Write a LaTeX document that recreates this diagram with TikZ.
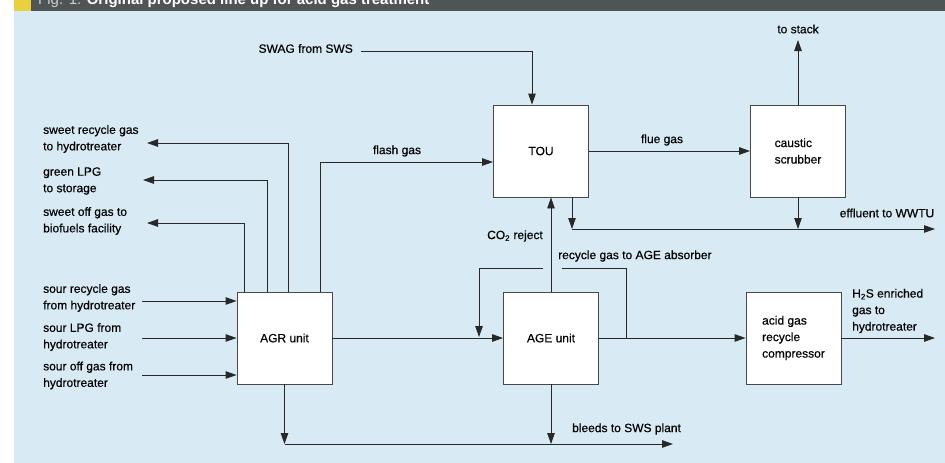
\documentclass[tikz,border=0pt]{standalone}
\usepackage{fontspec}
\setmainfont{Liberation Sans}
\newfontfamily\diagfont{Liberation Sans}[FakeBold=0.35]
\usepackage{xcolor}
\usepackage{tikz}
\usetikzlibrary{arrows.meta, positioning}
\definecolor{panelblue}{RGB}{216,235,244}
\definecolor{bargrey}{RGB}{79,84,86}
\definecolor{markyellow}{RGB}{234,208,60}
\definecolor{linegrey}{RGB}{40,40,40}
\definecolor{figgrey}{RGB}{205,205,205}
\tikzstyle{unit} = [rectangle, draw=linegrey!85, line width=0.9pt, fill=white, minimum width=95pt, minimum height=92pt, align=left, inner sep=0pt]
\tikzstyle{flow} = [draw=linegrey, line width=0.9pt, -{Triangle[length=11pt,width=7.5pt]}]

\begin{document}
\begin{tikzpicture}[
    x=1pt, y=-1pt,
    font=\diagfont\fontsize{12}{16.5}\selectfont,
    lbl/.style={inner sep=0pt, align=left, text=black},
    line/.style={draw=linegrey, line width=0.9pt}]
    \useasboundingbox (0,0) rectangle (945,463);
    \fill[white] (0,0) rectangle (945,463);
    \fill[panelblue] (14,11) rectangle (945,463);
    \fill[bargrey] (14,0) rectangle (945,11);
    \fill[markyellow] (14,0) rectangle (31,11);
    \node[lbl, anchor=base west, font=\rmfamily\fontsize{15}{18}\selectfont] (title) at (38,5) {\textcolor{figgrey}{Fig. 1:} \textcolor{white}{\bfseries Original proposed line up for acid gas treatment}};

    \node[unit] (agr)   at (284.5,338) {AGR unit};
    \node[unit] (tou)   at (541,151)   {TOU};
    \node[unit] (scrub) at (798,151)   {caustic\\scrubber};
    \node[unit] (age)   at (551,338)   {AGE unit};
    \node[unit] (comp)  at (793.5,338) {acid gas\\recycle\\compressor};

    \node[lbl, anchor=west] (lblsweetrec) at (43,139) {sweet recycle gas\\to hydrotreater};
    \node[lbl, anchor=west] (lblgreen)    at (43,181) {green LPG\\to storage};
    \node[lbl, anchor=west] (lblsweetoff) at (43,221) {sweet off gas to\\biofuels facility};
    \node[lbl, anchor=west] (lblsourrec)  at (43,298) {sour recycle gas\\from hydrotreater};
    \node[lbl, anchor=west] (lblsourlpg)  at (43,337) {sour LPG from\\hydrotreater};
    \node[lbl, anchor=west] (lblsouroff)  at (43,375.5) {sour off gas from\\hydrotreater};
    \node[lbl, anchor=east] (lblswag)     at (353,48.5) {SWAG from SWS};
    \node[lbl] (lblflash)  at (397,151) {flash gas};
    \node[lbl] (lblflue)   at (662,140) {flue gas};
    \node[lbl] (lblstack)  at (798,29)  {to stack};
    \node[lbl] (lbleffl)   at (887,213) {effluent to WWTU};
    \node[lbl, anchor=east] (lblco2)  at (543,236) {CO\textsubscript{2} reject};
    \node[lbl, anchor=west] (lblrcy)  at (558,256) {recycle gas to AGE absorber};
    \node[lbl, anchor=west] (lblbleed) at (572,429) {bleeds to SWS plant};
    \node[lbl, anchor=west] (lblh2s)  at (852,311) {H\textsubscript{2}S enriched\\gas to\\hydrotreater};

    \coordinate (sweetrec) at (147,143);
    \coordinate (green)    at (143,180);
    \coordinate (sweetoff) at (147,223);
    \coordinate (sourrec)  at (142,301);
    \coordinate (sourlpg)  at (142,338);
    \coordinate (souroff)  at (142,375);
    \coordinate (swagin)   at (361,51);
    \coordinate (stack)    at (798,40);
    \coordinate (effl)     at (572,229);
    \coordinate (wwtu)     at (935,229);
    \coordinate (rcyout)   at (626,338);
    \coordinate (rcyin)    at (479,337);
    \coordinate (gapr)     at (562,268);
    \coordinate (gapl)     at (543,268);
    \coordinate (h2s)      at (935,338);
    \coordinate (bleed)    at (673,444);

    \draw[flow] ([xshift=4pt]agr.north) |- (sweetrec);
    \draw[flow] ([xshift=-17pt]agr.north) |- (green);
    \draw[flow] ([xshift=-40pt]agr.north) |- (sweetoff);
    \draw[flow] ([xshift=36pt]agr.north) |- ([yshift=-11pt]tou.west);
    \draw[flow] (sourrec) -- (agr.west |- sourrec);
    \draw[flow] (sourlpg) -- (agr.west |- sourlpg);
    \draw[flow] (souroff) -- (agr.west |- souroff);
    \draw[flow] (swagin) -| ([xshift=-9pt]tou.north);
    \draw[flow] (tou.east) -- (scrub.west);
    \draw[flow] (scrub.north) -- (stack);
    \draw[flow] ([xshift=31pt]tou.south) -- (effl);
    \draw[flow] (effl) -- (wwtu);
    \draw[flow] (scrub.south) -- (scrub.south |- effl);
    \draw[flow] (age.north) -- (age.north |- tou.south);
    \draw[flow] (agr.east) -- (age.west);
    \draw[flow] (age.east) -- (comp.west);
    \draw[line] (rcyout) |- (gapr);
    \draw[flow] (gapl) -| (rcyin);
    \draw[flow] (comp.east) -- (h2s);
    \draw[flow] (agr.south) -- (agr.south |- bleed);
    \draw[flow] (agr.south |- bleed) -- (bleed);
    \draw[flow] (age.south) -- (age.south |- bleed);
\end{tikzpicture}
\end{document}
